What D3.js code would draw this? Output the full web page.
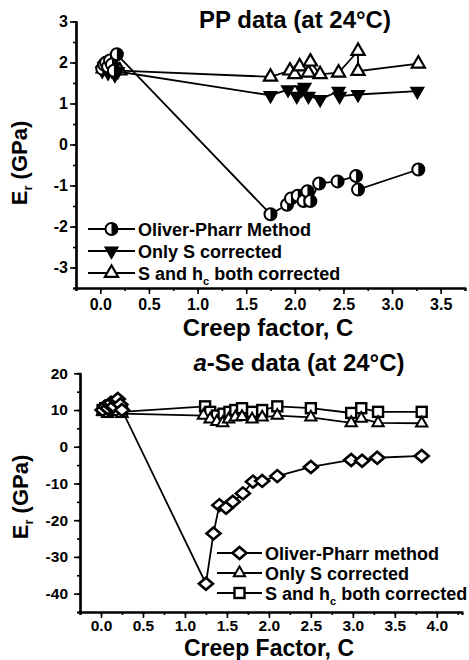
<!DOCTYPE html>
<html>
<head>
<meta charset="utf-8">
<script src="https://cdn.jsdelivr.net/npm/d3@7/dist/d3.min.js"></script>
<style>
	body { margin: 0; background: #fff; }
	text { font-family: 'Liberation Sans', Arial, sans-serif; font-weight: bold; fill: #000; }
</style>
</head>
<body>
<svg id="chart" width="469" height="660"></svg>
<script>
// --- PP data (top panel) ---
let ppOliverC = [0.02, 0.04, 0.06, 0.08, 0.1, 0.12, 0.14, 0.17, 1.75, 1.92, 1.96, 2.03, 2.09, 2.13, 2.16, 2.25, 2.44, 2.63, 2.65, 3.27];
let ppOliverE = [1.85, 1.95, 2.0, 1.9, 2.05, 1.95, 1.8, 2.2, -1.70, -1.47, -1.32, -1.25, -1.38, -1.14, -1.38, -0.95, -0.90, -0.77, -1.10, -0.61];

let ppOnlySC = [0.02, 0.04, 0.06, 0.08, 0.1, 0.12, 0.15, 0.18, 1.75, 1.93, 2.02, 2.07, 2.1, 2.14, 2.26, 2.45, 2.46, 2.65, 3.26];
let ppOnlySE = [1.8, 1.9, 1.85, 1.75, 1.85, 1.8, 1.7, 1.78, 1.2, 1.34, 1.18, 1.34, 1.4, 1.18, 1.1, 1.3, 1.18, 1.22, 1.3];

let ppBothC = [0.03, 0.05, 0.07, 0.1, 0.13, 0.16, 0.2, 1.75, 1.95, 2.0, 2.05, 2.14, 2.16, 2.26, 2.45, 2.65, 2.65, 3.27];
let ppBothE = [1.85, 1.9, 1.95, 1.8, 1.9, 1.85, 1.8, 1.65, 1.8, 1.71, 1.9, 1.75, 2.02, 1.71, 1.75, 2.28, 1.79, 1.97];

let ppYTicks = [-3, -2, -1, 0, 1, 2, 3];
let ppXTicks = [0.0, 0.5, 1.0, 1.5, 2.0, 2.5, 3.0, 3.5];

// --- a-Se data (bottom panel) ---
let seOliverC = [0.02, 0.05, 0.08, 0.1, 0.12, 0.15, 0.18, 0.2, 0.23, 0.25, 1.25, 1.34, 1.41, 1.49, 1.57, 1.69, 1.81, 1.92, 2.1, 2.5, 2.98, 3.11, 3.29, 3.82];
let seOliverE = [10, 11, 10.5, 11.5, 12, 11, 12.5, 13, 11.5, 10, -37.3, -23.6, -15.9, -16.6, -15, -12.7, -9.5, -9.3, -8, -5.5, -3.6, -3.8, -3, -2.5];

let seOnlySC = [0.02, 0.05, 0.08, 0.1, 0.13, 0.15, 0.18, 0.2, 0.25, 1.22, 1.3, 1.38, 1.45, 1.52, 1.6, 1.68, 1.8, 1.92, 2.1, 2.5, 2.98, 3.1, 3.3, 3.82];
let seOnlySE = [9.5, 10, 9, 10.5, 10, 9.5, 10, 9.5, 9, 8.5, 7.5, 6.8, 6.5, 7.5, 8, 8.2, 7.5, 8, 8.5, 8, 6.5, 7.7, 6.5, 6.4];

let seBothC = [0.02, 0.05, 0.08, 0.1, 0.13, 0.15, 0.18, 0.2, 0.25, 1.24, 1.3, 1.38, 1.46, 1.53, 1.6, 1.68, 1.8, 1.92, 2.1, 2.5, 2.98, 3.1, 3.3, 3.82];
let seBothE = [10, 10.5, 9.5, 11, 10, 10.5, 11, 10.5, 9.5, 11, 9.5, 8.5, 9, 9.5, 10, 10.5, 9.5, 10, 11, 10.5, 9.2, 10.5, 9.5, 9.5];

let seYTicks = [-40, -30, -20, -10, 0, 10, 20];
let seXTicks = [0.0, 0.5, 1.0, 1.5, 2.0, 2.5, 3.0, 3.5, 4.0];

let svg = d3.select('#chart');

function zip(cs, es) {
	return cs.map((c, i) => ({c: c, e: es[i]}));
}

// draws one marker of a given type at pixel position
function marker(g, type, x, y) {
	if(type == 'halfCircle')
	{
		g.append('circle')
			.attr('cx', x)
			.attr('cy', y)
			.attr('r', 6)
			.attr('fill', '#fff')
			.attr('stroke', '#000')
			.attr('stroke-width', 2)
		;
		g.append('path')
			.attr('d', `M${x},${y - 6} A6,6 0 0 1 ${x},${y + 6} Z`)
			.attr('fill', '#000')
		;
	}
	else if(type == 'downTri')
	{
		g.append('path')
			.attr('d', d3.symbol(d3.symbolTriangle, 70)())
			.attr('transform', `translate(${x},${y}) rotate(180)`)
			.attr('fill', '#000')
			.attr('stroke', '#000')
			.attr('stroke-width', 1.5)
		;
	}
	else if(type == 'upTri')
	{
		g.append('path')
			.attr('d', d3.symbol(d3.symbolTriangle, 75)())
			.attr('transform', `translate(${x},${y})`)
			.attr('fill', '#fff')
			.attr('stroke', '#000')
			.attr('stroke-width', 2.2)
		;
	}
	else if(type == 'diamond')
	{
		g.append('path')
			.attr('d', `M${x - 7},${y} L${x},${y - 6} L${x + 7},${y} L${x},${y + 6} Z`)
			.attr('fill', '#fff')
			.attr('stroke', '#000')
			.attr('stroke-width', 2.6)
		;
	}
	else if(type == 'openTri')
	{
		g.append('path')
			.attr('d', d3.symbol(d3.symbolTriangle, 55)())
			.attr('transform', `translate(${x},${y})`)
			.attr('fill', '#fff')
			.attr('stroke', '#000')
			.attr('stroke-width', 2)
		;
	}
	else if(type == 'square')
	{
		g.append('rect')
			.attr('x', x - 5)
			.attr('y', y - 5)
			.attr('width', 10)
			.attr('height', 10)
			.attr('fill', '#fff')
			.attr('stroke', '#000')
			.attr('stroke-width', 2.4)
		;
	}
}

function drawSeries(g, pts, x, y, type) {
	let line = d3.line()
		.x(d => x(d.c))
		.y(d => y(d.e))
	;

	g.append('path')
		.datum(pts)
		.attr('d', line)
		.attr('fill', 'none')
		.attr('stroke', '#000')
		.attr('stroke-width', 1.8)
	;

	let mg = g.append('g');
	pts.forEach(d => marker(mg, type, x(d.c), y(d.e)));
}

function drawAxes(g, x, y, o) {
	g.append('g')
		.attr('transform', `translate(0,${o.bottom})`)
		.call(d3.axisBottom(x).tickValues(o.xMinor).tickSize(3).tickFormat(''))
	;
	g.append('g')
		.attr('transform', `translate(0,${o.bottom})`)
		.call(d3.axisBottom(x).tickValues(o.xTicks).tickSize(6).tickSizeOuter(0).tickPadding(o.xPad).tickFormat(d3.format('.1f')))
	;

	g.append('g')
		.attr('transform', `translate(${o.left},0)`)
		.call(d3.axisLeft(y).tickValues(o.yMinor).tickSize(3).tickFormat(''))
	;
	g.append('g')
		.attr('transform', `translate(${o.left},0)`)
		.call(d3.axisLeft(y).tickValues(o.yTicks).tickSize(6).tickSizeOuter(0).tickPadding(o.yPad).tickFormat(d => String(d)))
	;

	g.selectAll('.domain')
		.attr('stroke-width', 2.2)
	;
	g.selectAll('.tick line')
		.attr('stroke-width', 1.6)
	;
	g.selectAll('.tick text')
		.style('font-size', o.tickFont + 'px')
		.style('font-family', "'Liberation Sans', Arial, sans-serif")
		.style('font-weight', 'bold')
	;
}

function legend(g, rows, x0, x1, tx, ys) {
	rows.forEach((r, i) => {
		g.append('line')
			.attr('x1', x0)
			.attr('x2', x1)
			.attr('y1', ys[i])
			.attr('y2', ys[i])
			.attr('stroke', '#000')
			.attr('stroke-width', 1.8)
		;
		marker(g, r.type, (x0 + x1) / 2, ys[i]);

		let t = g.append('text')
			.attr('x', tx)
			.attr('y', ys[i] + 6.5)
			.style('font-size', '18px')
		;
		r.label.forEach(p => {
			let s = t.append('tspan').text(p.t);
			if(p.sub)
			{
				s.attr('dy', 5).style('font-size', '11px');
			}
			if(p.back)
			{
				s.attr('dy', -5);
			}
		});
	});
}

function yTitle(g, cx, cy) {
	let t = g.append('text')
		.attr('transform', `translate(${cx},${cy}) rotate(-90)`)
		.attr('text-anchor', 'middle')
		.style('font-size', '22px')
	;
	t.append('tspan').text('E');
	t.append('tspan').text('r').attr('dy', 5).style('font-size', '13px');
	t.append('tspan').text(' (GPa)').attr('dy', -5);
}

// ---------- top panel ----------
let topPanel = svg.append('g');

let x1 = d3.scaleLinear([-0.25, 3.75], [76, 465]);
let y1 = d3.scaleLinear([-3.5, 3], [288, 21.5]);

drawAxes(topPanel, x1, y1, {
	bottom: 288, left: 76,
	xTicks: ppXTicks, xMinor: d3.range(-0.25, 3.76, 0.25),
	yTicks: ppYTicks, yMinor: d3.range(-3.5, 3.01, 0.5),
	xPad: 5, yPad: 2, tickFont: 16
});

drawSeries(topPanel, zip(ppBothC, ppBothE), x1, y1, 'upTri');
drawSeries(topPanel, zip(ppOnlySC, ppOnlySE), x1, y1, 'downTri');
drawSeries(topPanel, zip(ppOliverC, ppOliverE), x1, y1, 'halfCircle');

legend(topPanel, [
	{type: 'halfCircle', label: [{t: 'Oliver-Pharr Method'}]},
	{type: 'downTri', label: [{t: 'Only S corrected'}]},
	{type: 'upTri', label: [{t: 'S and h'}, {t: 'c', sub: true}, {t: ' both corrected', back: true}]}
], 88, 135, 138, [229, 251, 273]);

topPanel.append('text')
	.attr('x', 295)
	.attr('y', 28)
	.attr('text-anchor', 'middle')
	.style('font-size', '24px')
	.text('PP data (at 24°C)')
;

topPanel.append('text')
	.attr('x', 268)
	.attr('y', 336)
	.attr('text-anchor', 'middle')
	.style('font-size', '24px')
	.text('Creep factor, C')
;

yTitle(topPanel, 27, 163);

// ---------- bottom panel ----------
let botPanel = svg.append('g');

let x2 = d3.scaleLinear([-0.25, 4.3], [80, 462]);
let y2 = d3.scaleLinear([-45, 20], [612, 373.3]);

drawAxes(botPanel, x2, y2, {
	bottom: 612, left: 80,
	xTicks: seXTicks, xMinor: d3.range(-0.25, 4.3, 0.25),
	yTicks: seYTicks, yMinor: d3.range(-45, 20.1, 5),
	xPad: 2, yPad: 6, tickFont: 15.5
});

drawSeries(botPanel, zip(seBothC, seBothE), x2, y2, 'square');
drawSeries(botPanel, zip(seOnlySC, seOnlySE), x2, y2, 'openTri');
drawSeries(botPanel, zip(seOliverC, seOliverE), x2, y2, 'diamond');

legend(botPanel, [
	{type: 'diamond', label: [{t: 'Oliver-Pharr method'}]},
	{type: 'openTri', label: [{t: 'Only S corrected'}]},
	{type: 'square', label: [{t: 'S and h'}, {t: 'c', sub: true}, {t: ' both corrected', back: true}]}
], 217, 262, 265, [553, 573, 593]);

let st = botPanel.append('text')
	.attr('x', 299)
	.attr('y', 371)
	.attr('text-anchor', 'middle')
	.style('font-size', '24px')
;
st.append('tspan').text('a').style('font-style', 'italic');
st.append('tspan').text('-Se data (at 24°C)');

botPanel.append('text')
	.attr('x', 269)
	.attr('y', 656)
	.attr('text-anchor', 'middle')
	.style('font-size', '23px')
	.text('Creep Factor, C')
;

yTitle(botPanel, 28, 497);
</script>
</body>
</html>
